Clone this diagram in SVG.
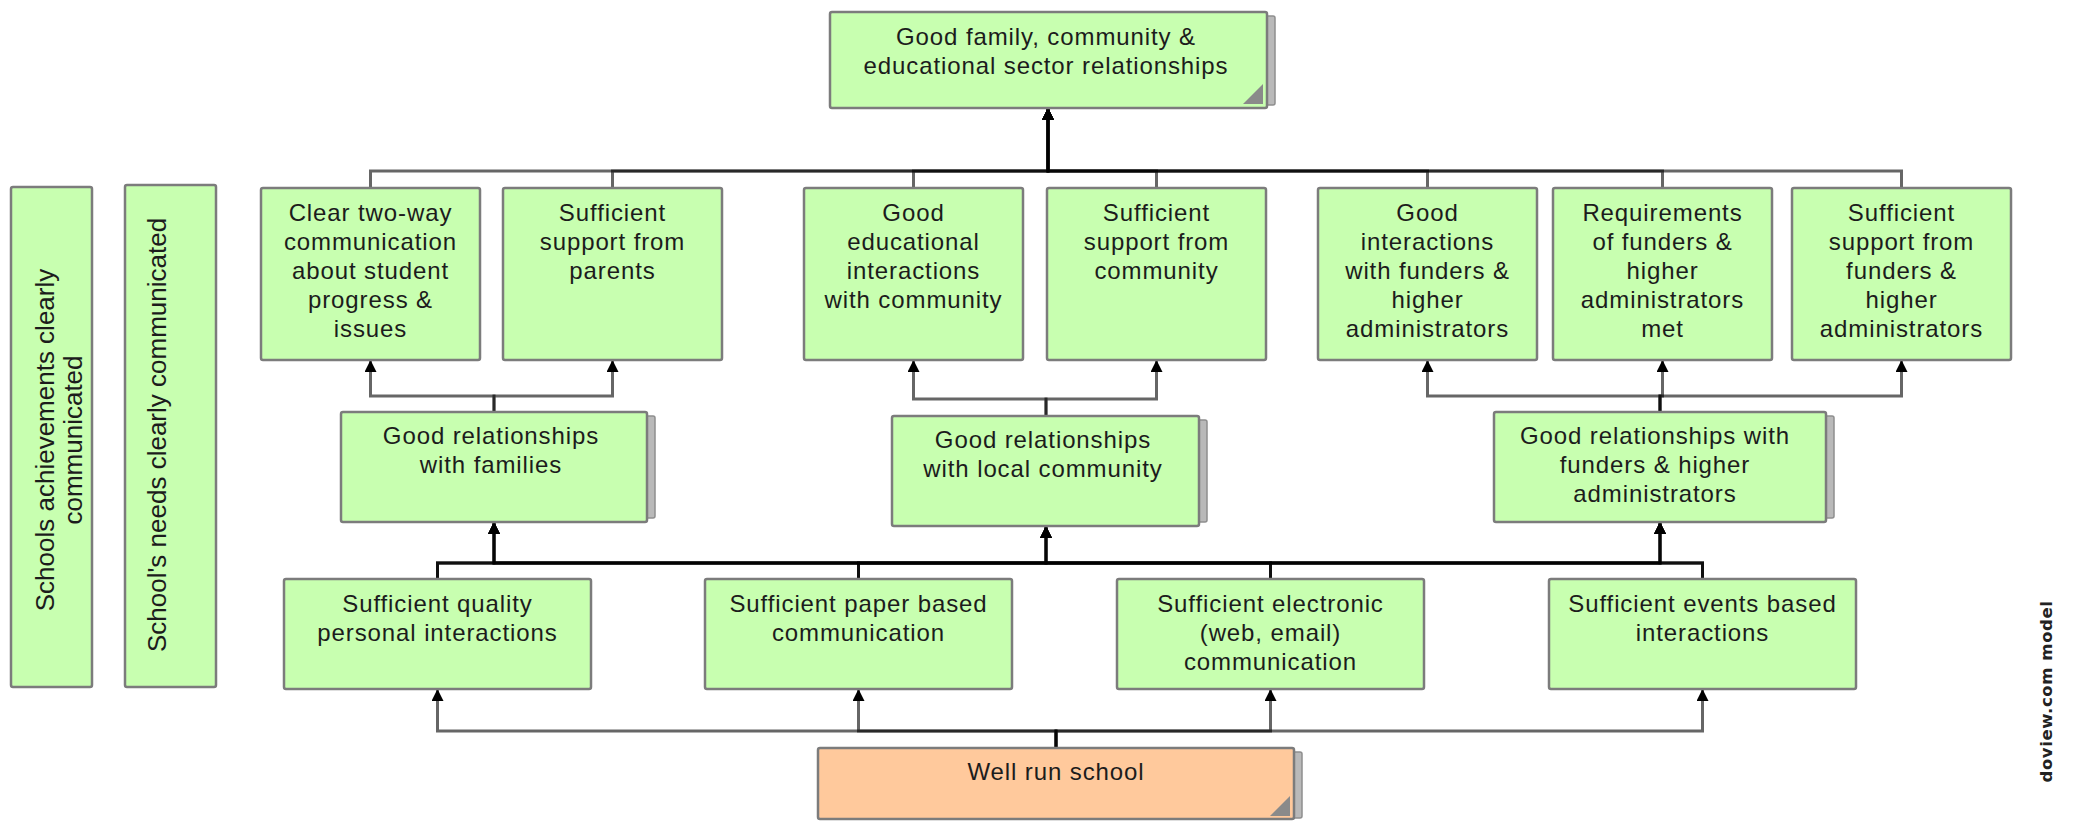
<svg xmlns="http://www.w3.org/2000/svg" width="2074" height="821" viewBox="0 0 2074 821">
<style>
.bg{fill:#ffffff}
.box{fill:#c8ffb0;stroke:#7c7c7c;stroke-width:2.5}
.orange{fill:#ffc99c;stroke:#7c7c7c;stroke-width:2.5}
.shadow{fill:#b9b9b9;stroke:#8e8e8e;stroke-width:1.5}
.corner{fill:#8a8a8a}
.t{font-family:"Liberation Sans",Arial,sans-serif;font-size:24px;letter-spacing:0.9px;fill:#1c1c1c;text-anchor:middle}
.vt{font-family:"Liberation Sans",Arial,sans-serif;font-size:26px;fill:#1c1c1c;text-anchor:middle}
.wm{font-family:"DejaVu Sans",sans-serif;font-size:16.5px;letter-spacing:0.6px;fill:#222;text-anchor:middle;font-weight:bold}
.e{fill:none;stroke:#000;stroke-opacity:0.6;stroke-width:3;marker-end:url(#arr)}
</style>
<defs>
<marker id="arr" viewBox="0 0 12 12" refX="12" refY="6" markerWidth="12" markerHeight="12" markerUnits="userSpaceOnUse" orient="auto">
<path d="M0,0 L12,6 L0,12 z" fill="#000"/>
</marker>
</defs>
<rect class="bg" x="0" y="0" width="2074" height="821"/>

<g id="connectors">
<path class="e" d="M370.5,188 V171 H1048 V108"/>
<path class="e" d="M612.5,188 V171 H1048 V108"/>
<path class="e" d="M913.5,188 V171 H1048 V108"/>
<path class="e" d="M1156.5,188 V171 H1048 V108"/>
<path class="e" d="M1427.5,188 V171 H1048 V108"/>
<path class="e" d="M1662.5,188 V171 H1048 V108"/>
<path class="e" d="M1901.5,188 V171 H1048 V108"/>
<path class="e" d="M494,412 V396 H370.5 V360"/>
<path class="e" d="M494,412 V396 H612.5 V360"/>
<path class="e" d="M1046,416 V399 H913.5 V360"/>
<path class="e" d="M1046,416 V399 H1156.5 V360"/>
<path class="e" d="M1660,412 V396 H1427.5 V360"/>
<path class="e" d="M1660,412 V396 H1662.5 V360"/>
<path class="e" d="M1660,412 V396 H1901.5 V360"/>
<path class="e" d="M437.5,579 V563 H494 V522"/>
<path class="e" d="M437.5,579 V563 H1046 V526"/>
<path class="e" d="M437.5,579 V563 H1660 V522"/>
<path class="e" d="M858.5,579 V563 H494 V522"/>
<path class="e" d="M858.5,579 V563 H1046 V526"/>
<path class="e" d="M858.5,579 V563 H1660 V522"/>
<path class="e" d="M1270.5,579 V563 H494 V522"/>
<path class="e" d="M1270.5,579 V563 H1046 V526"/>
<path class="e" d="M1270.5,579 V563 H1660 V522"/>
<path class="e" d="M1702.5,579 V563 H494 V522"/>
<path class="e" d="M1702.5,579 V563 H1046 V526"/>
<path class="e" d="M1702.5,579 V563 H1660 V522"/>
<path class="e" d="M1056,748 V731 H437.5 V689"/>
<path class="e" d="M1056,748 V731 H858.5 V689"/>
<path class="e" d="M1056,748 V731 H1270.5 V689"/>
<path class="e" d="M1056,748 V731 H1702.5 V689"/>
</g>

<g id="n-top">
<rect class="shadow" x="838" y="16" width="437" height="89" rx="2"/>
<rect class="box" x="830" y="12" width="437" height="96" rx="2"/>
<polygon class="corner" points="1263,104 1263,84 1243,104"/>
<text class="t" x="1046" y="45">Good family, community &amp;</text>
<text class="t" x="1046" y="74">educational sector relationships</text>
</g>

<g id="n-achievements">
<rect class="box" x="11" y="187" width="81" height="500" rx="2"/>
<text class="vt" transform="translate(54,440) rotate(-90)"><tspan x="0" y="0">Schools achievements clearly</tspan><tspan x="0" y="28">communicated</tspan></text>
</g>

<g id="n-needs">
<rect class="box" x="125" y="185" width="91" height="502" rx="2"/>
<text class="vt" transform="translate(166,435) rotate(-90)">School's needs clearly communicated</text>
</g>

<g id="n-clear">
<rect class="box" x="261" y="188" width="219" height="172" rx="2"/>
<text class="t" x="370.5" y="221">Clear two-way</text>
<text class="t" x="370.5" y="250">communication</text>
<text class="t" x="370.5" y="279">about student</text>
<text class="t" x="370.5" y="308">progress &amp;</text>
<text class="t" x="370.5" y="337">issues</text>
</g>

<g id="n-parents">
<rect class="box" x="503" y="188" width="219" height="172" rx="2"/>
<text class="t" x="612.5" y="221">Sufficient</text>
<text class="t" x="612.5" y="250">support from</text>
<text class="t" x="612.5" y="279">parents</text>
</g>

<g id="n-educational">
<rect class="box" x="804" y="188" width="219" height="172" rx="2"/>
<text class="t" x="913.5" y="221">Good</text>
<text class="t" x="913.5" y="250">educational</text>
<text class="t" x="913.5" y="279">interactions</text>
<text class="t" x="913.5" y="308">with community</text>
</g>

<g id="n-community">
<rect class="box" x="1047" y="188" width="219" height="172" rx="2"/>
<text class="t" x="1156.5" y="221">Sufficient</text>
<text class="t" x="1156.5" y="250">support from</text>
<text class="t" x="1156.5" y="279">community</text>
</g>

<g id="n-interactions-funders">
<rect class="box" x="1318" y="188" width="219" height="172" rx="2"/>
<text class="t" x="1427.5" y="221">Good</text>
<text class="t" x="1427.5" y="250">interactions</text>
<text class="t" x="1427.5" y="279">with funders &amp;</text>
<text class="t" x="1427.5" y="308">higher</text>
<text class="t" x="1427.5" y="337">administrators</text>
</g>

<g id="n-requirements">
<rect class="box" x="1553" y="188" width="219" height="172" rx="2"/>
<text class="t" x="1662.5" y="221">Requirements</text>
<text class="t" x="1662.5" y="250">of funders &amp;</text>
<text class="t" x="1662.5" y="279">higher</text>
<text class="t" x="1662.5" y="308">administrators</text>
<text class="t" x="1662.5" y="337">met</text>
</g>

<g id="n-support-funders">
<rect class="box" x="1792" y="188" width="219" height="172" rx="2"/>
<text class="t" x="1901.5" y="221">Sufficient</text>
<text class="t" x="1901.5" y="250">support from</text>
<text class="t" x="1901.5" y="279">funders &amp;</text>
<text class="t" x="1901.5" y="308">higher</text>
<text class="t" x="1901.5" y="337">administrators</text>
</g>

<g id="n-families">
<rect class="shadow" x="349" y="416" width="306" height="102" rx="2"/>
<rect class="box" x="341" y="412" width="306" height="110" rx="2"/>
<text class="t" x="491" y="444">Good relationships</text>
<text class="t" x="491" y="473">with families</text>
</g>

<g id="n-local">
<rect class="shadow" x="900" y="420" width="307" height="102" rx="2"/>
<rect class="box" x="892" y="416" width="307" height="110" rx="2"/>
<text class="t" x="1043" y="448">Good relationships</text>
<text class="t" x="1043" y="477">with local community</text>
</g>

<g id="n-funders">
<rect class="shadow" x="1502" y="416" width="332" height="102" rx="2"/>
<rect class="box" x="1494" y="412" width="332" height="110" rx="2"/>
<text class="t" x="1655" y="444">Good relationships with</text>
<text class="t" x="1655" y="473">funders &amp; higher</text>
<text class="t" x="1655" y="502">administrators</text>
</g>

<g id="n-quality">
<rect class="box" x="284" y="579" width="307" height="110" rx="2"/>
<text class="t" x="437.5" y="612">Sufficient quality</text>
<text class="t" x="437.5" y="641">personal interactions</text>
</g>

<g id="n-paper">
<rect class="box" x="705" y="579" width="307" height="110" rx="2"/>
<text class="t" x="858.5" y="612">Sufficient paper based</text>
<text class="t" x="858.5" y="641">communication</text>
</g>

<g id="n-electronic">
<rect class="box" x="1117" y="579" width="307" height="110" rx="2"/>
<text class="t" x="1270.5" y="612">Sufficient electronic</text>
<text class="t" x="1270.5" y="641">(web, email)</text>
<text class="t" x="1270.5" y="670">communication</text>
</g>

<g id="n-events">
<rect class="box" x="1549" y="579" width="307" height="110" rx="2"/>
<text class="t" x="1702.5" y="612">Sufficient events based</text>
<text class="t" x="1702.5" y="641">interactions</text>
</g>

<g id="n-school">
<rect class="shadow" x="826" y="752" width="476" height="66" rx="2"/>
<rect class="orange" x="818" y="748" width="476" height="71" rx="2"/>
<polygon class="corner" points="1290,816 1290,796 1270,816"/>
<text class="t" x="1056" y="780">Well run school</text>
</g>

<text class="wm" transform="translate(2052,691.5) rotate(-90)">doview.com model</text>
</svg>
